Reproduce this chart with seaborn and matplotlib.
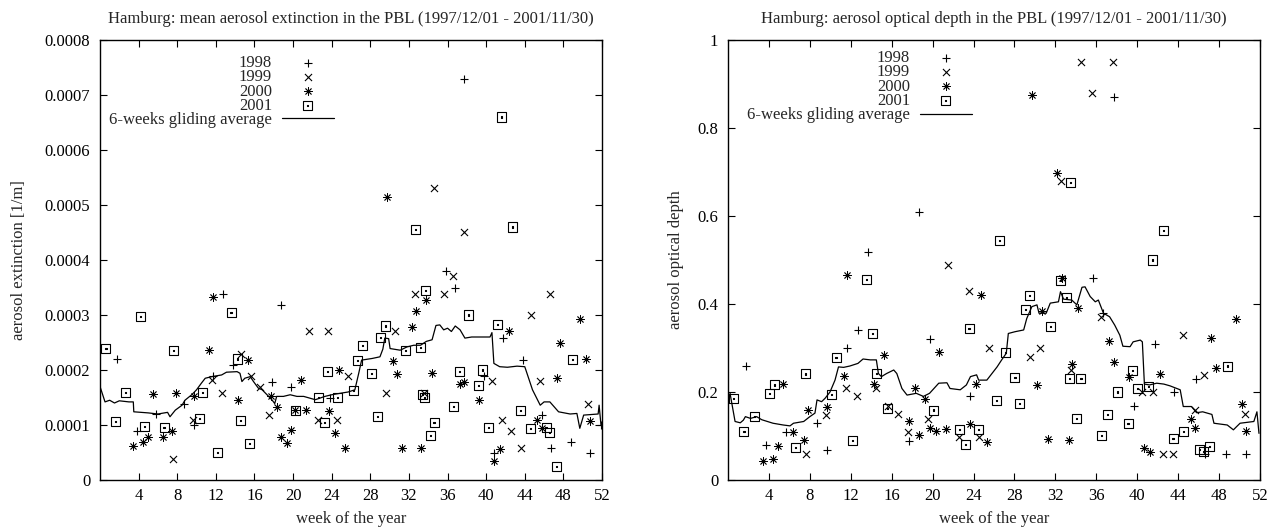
import numpy as np
import pandas as pd
import matplotlib
matplotlib.use("Agg")
import matplotlib.pyplot as plt
from matplotlib.path import Path
import seaborn as sns

# ---------------- data ----------------
years = ["1998", "1999", "2000", "2001"]
avg_label = "6-weeks gliding average"
week_ticks = [4, 8, 12, 16, 20, 24, 28, 32, 36, 40, 44, 48, 52]
ext_ticks = [0, 0.0001, 0.0002, 0.0003, 0.0004, 0.0005, 0.0006, 0.0007, 0.0008]
ext_tick_labels = ["0", "0.0001", "0.0002", "0.0003", "0.0004", "0.0005", "0.0006", "0.0007", "0.0008"]
aod_ticks = [0, 0.2, 0.4, 0.6, 0.8, 1.0]
aod_tick_labels = ["0", "0.2", "0.4", "0.6", "0.8", "1"]

title_ext = "Hamburg: mean aerosol extinction in the PBL (1997/12/01 - 2001/11/30)"
title_aod = "Hamburg: aerosol optical depth in the PBL (1997/12/01 - 2001/11/30)"

# ---- mean aerosol extinction (values in units of 1e-4 1/m) ----
ext_1998_w = [1.8, 3.8, 5.8, 8.7, 9.74, 11.74, 12.78, 13.75, 17.8, 18.76, 19.8, 23.8, 35.8, 36.8,
              37.75, 39.8, 40.8, 41.7, 43.8, 45.8, 46.7, 48.8, 50.8, 51.9]
ext_1998_v = [2.2, 0.89, 1.2, 1.39, 1.0, 1.89, 3.39, 2.09, 1.79, 3.19, 1.7, 1.5, 3.8, 3.5,
              7.29, 1.9, 0.5, 2.59, 2.19, 1.19, 0.59, 0.69, 0.5, 1.0]

ext_1999_w = [7.6, 9.6, 11.57, 12.6, 14.6, 15.6, 16.6, 17.5, 21.7, 22.6, 23.66, 24.6, 25.67, 29.6,
              30.6, 32.6, 33.6, 34.6, 35.6, 36.6, 37.7, 40.6, 41.6, 42.6, 43.6, 44.6, 45.6, 46.6, 50.6]
ext_1999_v = [0.38, 1.09, 1.81, 1.59, 2.3, 1.89, 1.7, 1.19, 2.7, 1.09, 2.7, 1.09, 1.89, 1.59,
              2.7, 3.39, 1.59, 5.30, 3.39, 3.7, 4.5, 1.8, 1.09, 0.89, 0.59, 3.0, 1.8, 3.39, 1.39]

ext_2000_w = [3.45, 4.5, 4.94, 5.53, 6.5, 7.5, 7.88, 9.74, 11.33, 11.74, 14.3, 15.37, 17.7, 18.3,
              18.7, 19.35, 19.76, 20.2, 20.8, 21.3, 23.77, 24.3, 24.77, 25.4, 29.7, 30.3, 30.8, 31.3,
              32.3, 32.75, 33.3, 33.8, 34.4, 37.3, 37.7, 39.3, 40.8, 41.4, 42.4, 45.3, 45.8, 47.3,
              47.7, 49.7, 50.3, 50.8]
ext_2000_v = [0.62, 0.69, 0.78, 1.56, 0.78, 0.9, 1.58, 1.52, 2.36, 3.33, 1.45, 2.18, 1.52, 1.33,
              0.79, 0.68, 0.91, 1.27, 1.82, 1.28, 1.26, 0.85, 2.0, 0.58, 5.14, 2.16, 1.92, 0.58,
              2.79, 3.07, 0.59, 3.28, 1.94, 1.75, 1.79, 1.45, 0.35, 0.57, 2.71, 1.1, 0.95, 1.85,
              2.5, 2.92, 2.2, 1.08]

ext_2001_w = [0.62, 1.62, 2.66, 4.2, 4.6, 6.63, 7.6, 10.26, 10.6, 12.2, 13.57, 14.2, 14.6, 15.5,
              20.2, 22.6, 23.25, 23.6, 24.6, 26.25, 26.67, 27.2, 28.1, 28.7, 29.1, 29.6, 31.6, 32.7,
              33.2, 33.4, 33.6, 33.7, 34.2, 34.6, 36.6, 37.2, 38.2, 39.2, 39.6, 40.2, 41.2, 41.6,
              42.7, 43.6, 44.6, 46.2, 46.6, 47.25, 48.9]
ext_2001_v = [2.39, 1.06, 1.59, 2.98, 0.97, 0.96, 2.36, 1.12, 1.59, 0.5, 3.04, 2.2, 1.08, 0.67,
              1.27, 1.5, 1.04, 1.97, 1.5, 1.62, 2.18, 2.44, 1.94, 1.15, 2.59, 2.8, 2.35, 4.55,
              2.41, 1.56, 1.5, 3.44, 0.81, 1.04, 1.33, 1.97, 3.0, 1.71, 2.0, 0.95, 2.82, 6.6,
              4.6, 1.26, 0.93, 0.95, 0.87, 0.24, 2.19]

ext_avg_w = [0, 0.52, 1.0, 1.5, 2.0, 3.0, 3.45, 3.5, 5.0, 6.0, 7.0, 7.25, 7.8, 8.5, 8.8, 9.5, 10.0,
             10.5, 10.9, 11.6, 12.6, 13.1, 14.2, 14.5, 14.7, 15.0, 15.56, 15.9, 16.4, 16.8, 17.3,
             17.8, 18.1, 18.3, 19.0, 19.7, 20.4, 21.1, 22.3, 23.3, 24.0, 25.0, 25.7, 26.4, 26.8,
             27.1, 28.2, 29.0, 29.3, 29.5, 29.9, 30.05, 31.1, 31.8, 32.5, 33.2, 33.8, 34.4, 34.8,
             35.2, 35.6, 36.0, 36.4, 36.8, 37.3, 37.8, 38.5, 39.5, 40.4, 40.6, 40.8, 41.4, 42.2,
             43.2, 44.0, 44.8, 45.6, 46.0, 46.6, 47.5, 48.7, 49.4, 49.7, 50.1, 51.6, 51.7, 51.9]
ext_avg_v = [1.7, 1.42, 1.45, 1.40, 1.44, 1.42, 1.42, 1.24, 1.22, 1.2, 1.23, 1.15, 1.27, 1.36, 1.45,
             1.55, 1.64, 1.76, 1.85, 1.88, 1.91, 1.96, 1.97, 1.94, 1.79, 1.85, 1.88, 1.79, 1.67,
             1.64, 1.55, 1.46, 1.39, 1.52, 1.52, 1.55, 1.52, 1.52, 1.46, 1.52, 1.55, 1.58, 1.6,
             1.64, 1.94, 2.18, 2.21, 2.24, 2.38, 2.58, 2.57, 2.39, 2.36, 2.42, 2.45, 2.45, 2.52,
             2.55, 2.81, 2.82, 2.73, 2.76, 2.7, 2.8, 2.73, 2.58, 2.6, 2.6, 2.6, 2.68, 2.12, 2.06,
             2.05, 2.07, 2.06, 1.64, 1.36, 1.42, 1.42, 1.24, 1.2, 1.21, 0.94, 1.18, 1.2, 1.36, 0.99]

# ---- aerosol optical depth ----
aod_1998_w = [1.73, 3.7, 5.67, 8.73, 9.7, 11.66, 12.7, 13.65, 17.7, 18.7, 19.7, 23.7, 35.7, 36.7,
              37.7, 39.7, 41.7, 43.6, 45.75, 46.6, 48.7, 50.6]
aod_1998_v = [0.259, 0.08, 0.108, 0.129, 0.068, 0.3, 0.34, 0.519, 0.089, 0.61, 0.32, 0.19, 0.46,
              0.379, 0.87, 0.169, 0.309, 0.2, 0.23, 0.058, 0.059, 0.059]

aod_1999_w = [7.6, 9.58, 11.5, 12.6, 14.5, 15.6, 16.6, 17.6, 19.5, 21.5, 22.6, 23.56, 24.5, 25.5,
              29.5, 30.5, 32.5, 33.5, 34.5, 35.55, 36.5, 37.6, 40.5, 41.5, 42.5, 43.5, 44.5, 45.6,
              46.5, 50.5]
aod_1999_v = [0.059, 0.148, 0.21, 0.19, 0.21, 0.169, 0.149, 0.108, 0.138, 0.489, 0.098, 0.43, 0.098,
              0.3, 0.279, 0.3, 0.68, 0.25, 0.951, 0.879, 0.37, 0.951, 0.2, 0.2, 0.059, 0.059, 0.33,
              0.159, 0.239, 0.149]

aod_2000_w = [3.4, 4.37, 4.86, 5.4, 6.4, 7.43, 7.85, 9.7, 11.3, 11.66, 14.3, 15.25, 17.7, 18.3,
              18.67, 19.26, 19.7, 20.3, 20.66, 21.3, 23.66, 24.2, 24.7, 25.3, 29.7, 30.2, 30.7,
              31.3, 32.2, 32.6, 33.3, 33.66, 34.2, 37.2, 37.7, 39.2, 40.7, 41.25, 42.2, 45.26,
              45.65, 47.2, 47.7, 49.66, 50.2, 50.6]
aod_2000_v = [0.043, 0.048, 0.077, 0.218, 0.108, 0.091, 0.158, 0.167, 0.236, 0.466, 0.218, 0.284,
              0.135, 0.21, 0.102, 0.183, 0.119, 0.112, 0.292, 0.115, 0.127, 0.218, 0.42, 0.086,
              0.875, 0.216, 0.385, 0.093, 0.697, 0.46, 0.091, 0.263, 0.39, 0.316, 0.269, 0.233,
              0.073, 0.063, 0.242, 0.139, 0.119, 0.322, 0.254, 0.367, 0.173, 0.111]

aod_2001_w = [0.52, 1.56, 2.57, 4.1, 4.53, 6.6, 7.6, 10.1, 10.56, 12.15, 13.56, 14.1, 14.5, 15.6,
              20.1, 22.6, 23.2, 23.56, 24.5, 26.2, 26.5, 27.15, 28.05, 28.5, 29.1, 29.5, 31.55,
              32.5, 33.1, 33.4, 33.5, 34.1, 34.5, 36.5, 37.1, 38.1, 39.1, 39.5, 40.0, 41.1, 41.5,
              42.55, 43.5, 44.5, 46.07, 46.5, 47.1, 48.85]
aod_2001_v = [0.186, 0.11, 0.144, 0.197, 0.216, 0.073, 0.241, 0.195, 0.279, 0.089, 0.456, 0.332,
              0.242, 0.163, 0.159, 0.115, 0.081, 0.345, 0.115, 0.18, 0.545, 0.29, 0.233, 0.173,
              0.388, 0.42, 0.348, 0.453, 0.414, 0.231, 0.676, 0.139, 0.23, 0.101, 0.149, 0.2,
              0.129, 0.248, 0.208, 0.212, 0.5, 0.568, 0.095, 0.111, 0.07, 0.064, 0.076, 0.259]

aod_avg_w = [0.2, 0.69, 1.2, 1.5, 1.7, 2.2, 2.8, 3.3, 4.4, 5.4, 6.06, 6.4, 7.4, 8.0, 8.5, 8.7, 9.15,
             9.5, 9.97, 10.46, 10.8, 11.3, 11.9, 12.7, 13.2, 13.9, 14.5, 14.7, 15.0, 15.5, 16.2,
             16.5, 17.0, 17.5, 18.4, 19.1, 19.7, 20.6, 21.4, 21.7, 22.7, 23.3, 23.7, 24.3, 24.5,
             25.3, 26.3, 26.75, 27.2, 27.4, 28.05, 28.9, 29.2, 29.7, 30.2, 30.4, 31.1, 31.5, 32.3,
             32.5, 32.8, 33.6, 34.1, 34.6, 34.9, 35.4, 35.9, 36.2, 36.7, 37.3, 37.8, 38.3, 38.6,
             39.3, 39.6, 40.3, 40.5, 40.7, 41.2, 41.9, 42.6, 43.2, 44.2, 44.5, 45.3, 45.8, 46.4,
             47.3, 47.5, 48.8, 49.4, 49.7, 50.05, 51.4, 51.7, 51.9]
aod_avg_v = [0.197, 0.133, 0.13, 0.136, 0.144, 0.14, 0.144, 0.137, 0.129, 0.125, 0.123, 0.129,
             0.133, 0.144, 0.152, 0.182, 0.178, 0.186, 0.2, 0.227, 0.257, 0.256, 0.259, 0.265,
             0.275, 0.273, 0.273, 0.242, 0.235, 0.242, 0.25, 0.242, 0.208, 0.193, 0.197, 0.19,
             0.197, 0.22, 0.221, 0.208, 0.205, 0.216, 0.235, 0.239, 0.227, 0.227, 0.257, 0.273,
             0.288, 0.333, 0.337, 0.341, 0.367, 0.394, 0.398, 0.379, 0.379, 0.402, 0.405, 0.428,
             0.411, 0.409, 0.398, 0.438, 0.439, 0.417, 0.405, 0.409, 0.379, 0.371, 0.352, 0.329,
             0.304, 0.303, 0.314, 0.318, 0.314, 0.218, 0.216, 0.22, 0.218, 0.214, 0.205, 0.167,
             0.167, 0.153, 0.155, 0.149, 0.129, 0.125, 0.114, 0.121, 0.129, 0.133, 0.155, 0.106]

EXT_UNIT = 1e-4

# ---------------- style ----------------
sns.set_theme(style="ticks")
plt.rcParams["font.family"] = ["Liberation Serif", "DejaVu Serif"]
plt.rcParams["axes.edgecolor"] = "black"
plt.rcParams["axes.linewidth"] = 1.0

FS = 12

# boxed-dot marker (square outline with a tiny dot)
box_verts = [(-1, -1), (1, -1), (1, 1), (-1, 1), (-1, -1),
             (-0.12, -0.12), (0.12, -0.12), (0.12, 0.12), (-0.12, 0.12), (-0.12, -0.12)]
box_codes = [Path.MOVETO, Path.LINETO, Path.LINETO, Path.LINETO, Path.CLOSEPOLY,
             Path.MOVETO, Path.LINETO, Path.LINETO, Path.LINETO, Path.CLOSEPOLY]
box_marker = Path(box_verts, box_codes)

marker_styles = {
    "1998": dict(marker="+", s=36, linewidth=0.8),
    "1999": dict(marker="x", s=26, linewidth=0.8),
    "2000": dict(marker=(8, 2, 0), s=30, linewidth=0.6),
    "2001": dict(marker=box_marker, s=42, facecolor="none", edgecolor="black", linewidth=0.8),
}


def build_frame(series, scale=1.0):
    frames = []
    for yr, (w, v) in zip(years, series):
        frames.append(pd.DataFrame({"week": w, "value": np.asarray(v) * scale, "year": yr}))
    return pd.concat(frames, ignore_index=True)


ext_df = build_frame([(ext_1998_w, ext_1998_v), (ext_1999_w, ext_1999_v),
                      (ext_2000_w, ext_2000_v), (ext_2001_w, ext_2001_v)], EXT_UNIT)
aod_df = build_frame([(aod_1998_w, aod_1998_v), (aod_1999_w, aod_1999_v),
                      (aod_2000_w, aod_2000_v), (aod_2001_w, aod_2001_v)])
ext_avg = pd.DataFrame({"week": ext_avg_w, "value": np.asarray(ext_avg_v) * EXT_UNIT})
aod_avg = pd.DataFrame({"week": aod_avg_w, "value": aod_avg_v})

fig = plt.figure(figsize=(12.78, 5.27), dpi=100)
ax1 = fig.add_axes([100 / 1278, 47 / 527, 502 / 1278, 440 / 527])
ax2 = fig.add_axes([728 / 1278, 47 / 527, 532 / 1278, 440 / 527])


def draw_panel(ax, df, avg, yticks, ylabels, ylim, title, ylabel, leg_anchor, ylabelpad):
    handles = []
    for yr in years:
        sub = df[df["year"] == yr]
        kw = dict(color="black")
        kw.update(marker_styles[yr])
        sns.scatterplot(data=sub, x="week", y="value", ax=ax, legend=False, label=yr, **kw)
        handles.append(ax.collections[-1])
    sns.lineplot(data=avg, x="week", y="value", ax=ax, color="black", linewidth=0.9,
                 estimator=None, sort=False, legend=False, label=avg_label)
    handles.append(ax.lines[-1])

    ax.set_xlim(0, 52)
    ax.set_ylim(*ylim)
    ax.set_xticks(week_ticks)
    ax.set_xticklabels([str(t) for t in week_ticks])
    ax.set_yticks(yticks)
    ax.set_yticklabels(ylabels)
    ax.tick_params(axis="both", direction="in", length=5, width=0.8, top=True, right=True,
                   labelsize=FS, colors="black")
    ax.tick_params(axis="x", pad=6)
    ax.tick_params(axis="y", pad=7)
    for sp in ax.spines.values():
        sp.set_visible(True)
        sp.set_color("black")
        sp.set_linewidth(1.0)
    ax.set_xlabel("week of the year", fontsize=FS, labelpad=5)
    ax.set_ylabel(ylabel, fontsize=FS, labelpad=ylabelpad)
    ax.set_title(title, fontsize=FS, pad=12)
    ax.grid(False)

    ax.legend(handles, years + [avg_label], loc="upper left", bbox_to_anchor=leg_anchor,
              frameon=False, markerfirst=False, fontsize=FS, handlelength=3.1,
              handletextpad=0.6, labelspacing=-0.1, borderpad=0, borderaxespad=0,
              scatterpoints=1)


draw_panel(ax1, ext_df, ext_avg, ext_ticks, ext_tick_labels, (0, 0.0008), title_ext,
           "aerosol extinction [1/m]", (0.018, 0.966), 13)
draw_panel(ax2, aod_df, aod_avg, aod_ticks, aod_tick_labels, (0, 1.0), title_aod,
           "aerosol optical depth", (0.036, 0.977), 10)

fig.savefig("out.png", dpi=100)
